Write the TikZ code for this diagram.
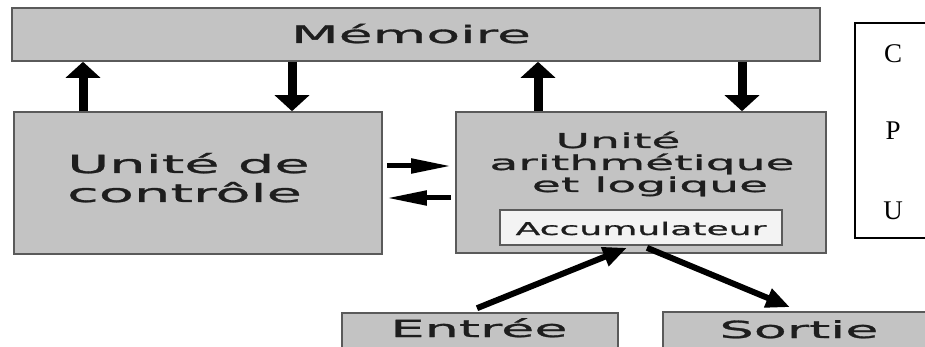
\documentclass[tikz,border=0pt]{standalone}
\usepackage{fontspec}
\setmainfont{Liberation Serif}
\newfontfamily\widesans[FakeStretch=2.3,FakeBold=1.2]{DejaVu Sans}
\newfontfamily\accsans[FakeStretch=2.05,FakeBold=1]{DejaVu Sans}
\usetikzlibrary{arrows.meta,calc}
\definecolor{boxfill}{RGB}{195,195,195}
\definecolor{boxline}{RGB}{90,90,90}
\definecolor{accfill}{RGB}{243,243,243}
\definecolor{txtcol}{RGB}{30,30,30}
\begin{document}
\begin{tikzpicture}[x=1pt,y=-1pt,
  graybox/.style={draw=boxline, fill=boxfill, line width=1.6pt, inner sep=0pt},
  accbox/.style={draw=boxline, fill=accfill, line width=1.6pt, inner sep=0pt},
  cpubox/.style={draw=black, fill=white, line width=1.2pt, inner sep=0pt},
  lbl/.style={inner sep=0pt, text=txtcol, anchor=base},
  cpulbl/.style={inner sep=0pt, text=black, anchor=base, font=\fontsize{27}{27}\selectfont},
  varr/.style={line width=9pt, line cap=butt, -{Triangle[length=16pt,width=34pt]}},
  harr/.style={line width=5pt, line cap=butt, -{Triangle[length=40pt,width=14pt]}, shorten <=4pt, shorten >=4pt},
  darr/.style={line width=6pt, line cap=butt, -{Triangle[length=24pt,width=19pt]}}
]
\useasboundingbox (0,0) rectangle (925,347);

% boxes
\node[graybox, minimum width=808pt, minimum height=53pt] (mem) at (416,34.5) {};
\node[graybox, minimum width=368pt, minimum height=142pt] (ctrl) at (198,183) {};
\node[graybox, minimum width=370pt, minimum height=141pt] (alu) at (641,182.5) {};
\node[accbox, minimum width=282pt, minimum height=35pt] (acc) at (641,227.5) {};
\node[graybox, minimum width=276pt, minimum height=36pt] (in) at (480,331) {};
\node[graybox, minimum width=272pt, minimum height=38pt] (out) at (799,331) {};
\node[cpubox, minimum width=85pt, minimum height=215pt] (cpu) at (897.5,130.5) {};

% texts
\node[lbl] (memT) at (411,43) {\widesans\fontsize{24}{24}\selectfont Mémoire};
\node[lbl, anchor=base west] (ctrlA) at (67,173) {\widesans\fontsize{25}{25}\selectfont Unité de};
\node[lbl, anchor=base west] (ctrlB) at (67,202) {\widesans\fontsize{25}{25}\selectfont contrôle};
\node[lbl] (aluA) at (618,148) {\widesans\fontsize{20.5}{20.5}\selectfont Unité};
\node[lbl] (aluB) at (642,170) {\widesans\fontsize{20.5}{20.5}\selectfont arithmétique};
\node[lbl] (aluC) at (650,192) {\widesans\fontsize{20.5}{20.5}\selectfont et logique};
\node[lbl] (accT) at (641,235) {\accsans\fontsize{17.6}{17.6}\selectfont Accumulateur};
\node[lbl] (inT) at (479,337) {\widesans\fontsize{23.5}{23.5}\selectfont Entrée};
\node[lbl] (outT) at (799,338) {\widesans\fontsize{23.5}{23.5}\selectfont Sortie};
\node[cpulbl] (cpuC) at (893,63) {C};
\node[cpulbl] (cpuP) at (893,140) {P};
\node[cpulbl] (cpuU) at (893,220) {U};

% arrow columns / rows
\coordinate (x1) at (83,0);
\coordinate (x2) at (292,0);
\coordinate (x3) at (538,0);
\coordinate (x4) at (742,0);
\coordinate (y1) at (0,166);
\coordinate (y2) at (0,198);

\draw[varr] (x1 |- ctrl.north) -- (x1 |- mem.south);
\draw[varr] (x2 |- mem.south) -- (x2 |- ctrl.north);
\draw[varr] (x3 |- alu.north) -- (x3 |- mem.south);
\draw[varr] (x4 |- mem.south) -- (x4 |- alu.north);

\draw[harr] (ctrl.east |- y1) -- (alu.west |- y1);
\draw[harr] (alu.west |- y2) -- (ctrl.east |- y2);

\draw[darr] ($(in.north)+(-3,-4)$) -- ($(acc.south)+(-14,2)$);
\draw[darr] ($(acc.south)+(6,2)$) -- ($(out.north)+(-9,-4)$);
\end{tikzpicture}
\end{document}
